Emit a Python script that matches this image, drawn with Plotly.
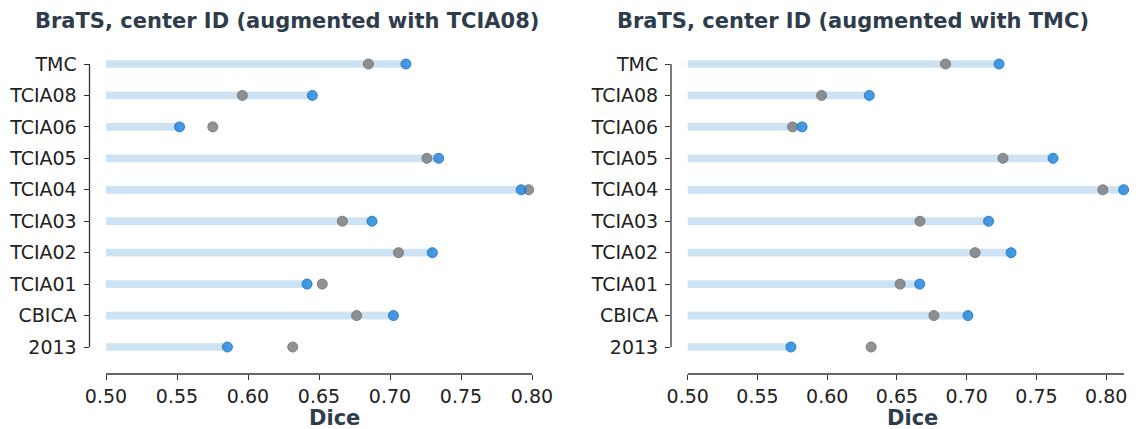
import plotly.graph_objects as go

# ---------------- data ----------------
centers = ["2013", "CBICA", "TCIA01", "TCIA02", "TCIA03",
           "TCIA04", "TCIA05", "TCIA06", "TCIA08", "TMC"]
baseline = [0.6315, 0.6765, 0.6523, 0.7060, 0.6665,
            0.7976, 0.7260, 0.5752, 0.5960, 0.6848]
aug_tcia08 = [0.5855, 0.7024, 0.6416, 0.7298, 0.6873,
              0.7924, 0.7343, 0.5518, 0.6453, 0.7112]
aug_tmc = [0.5740, 0.7009, 0.6663, 0.7318, 0.7157,
           0.8125, 0.7619, 0.5820, 0.6302, 0.7232]
titles = ["BraTS, center ID (augmented with TCIA08)",
          "BraTS, center ID (augmented with TMC)"]
xticks = [0.50, 0.55, 0.60, 0.65, 0.70, 0.75, 0.80]
xlabel = "Dice"

# ---------------- layout constants (pixels, screen coords) ----------------
OFF = 8                         # browser body margin
W, H = 1138 - 2 * OFF, 429 - OFF
TOP, BOTTOM = 40 - OFF, 374 - OFF
ROW_TOP, ROW_BOT = 64, 347     # TMC row / 2013 row
panels = [
    dict(zero_px=106.0, spine_px=89.5, right_px=562.0, pxu=1420.0,
         spine_end=0.80, title_px=33.3, xlabel_px=334.0, vals=aug_tcia08),
    dict(zero_px=687.7, spine_px=671.0, right_px=1130.0, pxu=1395.0,
         spine_end=0.8127, title_px=615.0, xlabel_px=912.0, vals=aug_tmc),
]

BAR_COLOR = "#cde3f3"
BLUE = "rgba(39,136,219,0.85)"
BLUE_EDGE = "rgba(30,120,205,0.9)"
GRAY = "rgba(128,128,128,0.85)"
GRAY_EDGE = "rgba(115,115,115,0.9)"
TEXT = "#222222"
TITLE_C = "#2e3c4b"
FONT = "DejaVu Sans"

n = len(centers)
unit_px = (ROW_BOT - ROW_TOP) / (n - 1)
y_lo = 0 - (374 - ROW_BOT) / unit_px
y_hi = (n - 1) + (ROW_TOP - 40) / unit_px
ph = BOTTOM - TOP


def ydom(k):
    return (k - y_lo) / (y_hi - y_lo)


def px2paper_y(y_screen):
    return (BOTTOM - (y_screen - OFF)) / ph


fig = go.Figure()
shapes, annotations = [], []

for i, p in enumerate(panels):
    xa = "x" if i == 0 else "x2"
    ya = "y" if i == 0 else "y2"
    xk = "xaxis" if i == 0 else "xaxis2"
    yk = "yaxis" if i == 0 else "yaxis2"
    vals = p["vals"]

    fig.add_trace(go.Bar(
        y=centers, x=[v - 0.5 for v in vals], base=0.5, orientation="h",
        width=0.245, marker=dict(color=BAR_COLOR, line=dict(width=0)),
        xaxis=xa, yaxis=ya, showlegend=False, hoverinfo="skip"))
    fig.add_trace(go.Scatter(
        y=centers, x=baseline, mode="markers", cliponaxis=False,
        marker=dict(size=10, color=GRAY, line=dict(width=1, color=GRAY_EDGE)),
        xaxis=xa, yaxis=ya, showlegend=False))
    fig.add_trace(go.Scatter(
        y=centers, x=vals, mode="markers", cliponaxis=False,
        marker=dict(size=10, color=BLUE, line=dict(width=1, color=BLUE_EDGE)),
        xaxis=xa, yaxis=ya, showlegend=False))

    x0 = 0.5 - (p["zero_px"] - p["spine_px"]) / p["pxu"]
    x1 = 0.5 + (p["right_px"] - p["zero_px"]) / p["pxu"]
    dom0 = (p["spine_px"] - OFF) / W
    dom1 = min(1.0, (p["right_px"] - OFF) / W)
    fig.layout[xk] = dict(
        domain=[dom0, dom1], range=[x0, x1],
        anchor=ya, tickvals=xticks, tickformat=".2f", automargin=False,
        ticks="outside", ticklen=5, tickwidth=1.2, tickcolor="#333333",
        showline=False, showgrid=False, zeroline=False,
        tickfont=dict(family=FONT, size=19, color=TEXT), fixedrange=True)
    fig.layout[yk] = dict(
        domain=[0, 1], range=[y_lo, y_hi], anchor=xa, automargin=False,
        type="category", categoryorder="array", categoryarray=centers,
        ticks="outside", ticklen=5, tickwidth=1.2, tickcolor="#333333",
        ticklabelstandoff=3,
        showline=False, showgrid=False, zeroline=False,
        tickfont=dict(family=FONT, size=19, color=TEXT), fixedrange=True)

    # trimmed spines
    shapes.append(dict(type="line", xref=f"{xa} domain", yref=f"{ya} domain",
                       x0=0, x1=0, y0=ydom(0), y1=ydom(n - 1),
                       line=dict(color="#333333", width=1.3)))
    shapes.append(dict(type="line", xref=xa, yref=f"{ya} domain",
                       x0=0.5, x1=p["spine_end"], y0=0, y1=0,
                       line=dict(color="#333333", width=1.3)))

    annotations.append(dict(
        text=f"<b>{titles[i]}</b>", xref="paper", yref="paper",
        x=(p["title_px"] - OFF) / W, xanchor="left",
        y=px2paper_y(21), yanchor="middle", showarrow=False,
        font=dict(family=FONT, size=21, color=TITLE_C)))
    annotations.append(dict(
        text=f"<b>{xlabel}</b>", xref="paper", yref="paper",
        x=(p["xlabel_px"] - OFF) / W, xanchor="center",
        y=px2paper_y(418), yanchor="middle", showarrow=False,
        font=dict(family=FONT, size=21, color=TITLE_C)))

fig.update_layout(
    width=W, height=H,
    margin=dict(l=0, r=0, t=TOP, b=H - BOTTOM, pad=0, autoexpand=False),
    paper_bgcolor="white", plot_bgcolor="white",
    barmode="overlay", shapes=shapes, annotations=annotations,
    font=dict(family=FONT, color=TEXT),
)

fig.write_html("out.html")
